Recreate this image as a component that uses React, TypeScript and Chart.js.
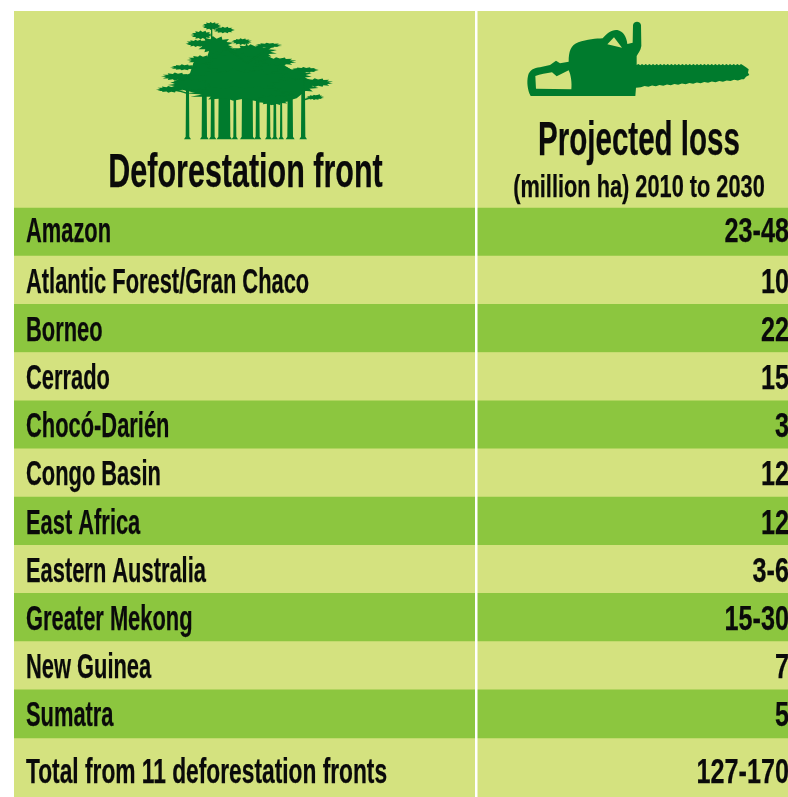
import React, { useEffect, useRef } from "react";
import { Chart, registerables } from "chart.js";

Chart.register(...registerables);

const fronts = [
  "Amazon",
  "Atlantic Forest/Gran Chaco",
  "Borneo",
  "Cerrado",
  "Chocó-Darién",
  "Congo Basin",
  "East Africa",
  "Eastern Australia",
  "Greater Mekong",
  "New Guinea",
  "Sumatra",
];
const losses = ["23-48", "10", "22", "15", "3", "12", "12", "3-6", "15-30", "7", "5"];
const totalLabel = "Total from 11 deforestation fronts";
const totalLoss = "127-170";
const headerLeft = "Deforestation front";
const headerRight = "Projected loss";
const headerRightSub = "(million ha) 2010 to 2030";

const LIGHT = "#d4e27f";
const DARK = "#8cc63f";
const ICON = "#007b2d";
const FONT = '"Liberation Sans Narrow", "Liberation Sans", sans-serif';
const HS = 0.625;
const HS_VALUES = 0.72;
const SEPARATOR = 0.597;
const Y_MIN = -4.589;
const Y_MAX = 11.725;
const TOTAL_POS = 11.175;

function drawText(ctx: CanvasRenderingContext2D, text: string, x: number, y: number, size: number, align: "left" | "right" | "center", hs = HS) {
  ctx.save();
  ctx.font = `bold ${size}px ${FONT}`;
  ctx.fillStyle = "#0a0a0a";
  ctx.strokeStyle = "#0a0a0a";
  ctx.lineWidth = 0.25;
  ctx.textBaseline = "alphabetic";
  ctx.textAlign = align;
  ctx.translate(x, y);
  ctx.scale(hs, 1);
  ctx.fillText(text, 0, 0);
  ctx.strokeText(text, 0, 0);
  ctx.restore();
}

function drawChainsaw(ctx: CanvasRenderingContext2D) {
  ctx.save();
  ctx.translate(510, 10);
  ctx.scale(1 / 3, 1 / 3);
  const p = new Path2D();
  p.moveTo(62, 258);
  p.bezierCurveTo(52, 240, 50, 215, 54, 198);
  p.bezierCurveTo(58, 180, 72, 174, 90, 172);
  p.lineTo(120, 165);
  p.lineTo(138, 152);
  p.lineTo(150, 160);
  p.lineTo(176, 155);
  p.bezierCurveTo(176, 125, 182, 105, 205, 97);
  p.bezierCurveTo(230, 88, 260, 86, 278, 85);
  p.bezierCurveTo(290, 70, 305, 58, 322, 60);
  p.bezierCurveTo(340, 64, 350, 80, 352, 102);
  p.lineTo(368, 98);
  p.lineTo(369, 45);
  p.bezierCurveTo(372, 32, 390, 32, 393, 45);
  p.lineTo(394, 108);
  p.bezierCurveTo(392, 122, 384, 130, 380, 138);
  p.lineTo(380, 165);
  for (let x = 380; x < 695; x += 11) {
    p.lineTo(x + 5, 162);
    p.lineTo(x + 11, 166);
  }
  p.lineTo(708, 172);
  p.lineTo(716, 178);
  p.lineTo(714, 188);
  p.lineTo(718, 195);
  p.lineTo(708, 200);
  p.lineTo(702, 208);
  for (let i = 0; i < 28; i++) {
    const x = 695 - i * 11.2;
    const t = (695 - x) / 315;
    p.lineTo(x, 208 + 22 * t + (i % 2 ? 3 : 0));
  }
  p.lineTo(378, 233);
  p.lineTo(376, 258);
  p.closePath();
  p.moveTo(76, 198);
  p.bezierCurveTo(90, 192, 110, 190, 126, 187);
  p.lineTo(140, 199);
  p.lineTo(176, 181);
  p.bezierCurveTo(183, 195, 186, 220, 184, 238);
  p.lineTo(78, 236);
  p.closePath();
  p.moveTo(292, 103);
  p.lineTo(312, 82);
  p.lineTo(336, 113);
  p.closePath();
  ctx.fillStyle = ICON;
  ctx.fill(p, "evenodd");
  ctx.restore();
}

// Icon trunks and canopy shapes, in the 3x-zoomed icon space.
const trunkSpans = [[136, 149], [184, 202], [211, 225], [234, 272], [279, 290], [304, 340], [346, 360], [379, 392], [399, 410], [419, 428], [441, 460], [482, 497]];
const canopy = [
  [100, 215], [150, 190], [160, 160], [200, 145], [215, 100], [250, 105], [290, 120], [320, 105], [345, 115],
  [370, 130], [405, 150], [440, 170], [480, 195], [520, 215], [500, 240], [470, 265], [400, 285], [360, 275],
  [300, 265], [240, 262], [190, 255], [130, 240],
];
const clumps = [
  [215, 48, 26, 11], [252, 60, 30, 9], [185, 75, 30, 12], [170, 100, 30, 10], [225, 105, 50, 24],
  [305, 95, 28, 9], [385, 106, 38, 7], [340, 125, 65, 20], [185, 150, 40, 13], [280, 160, 80, 30],
  [415, 155, 50, 12], [130, 172, 36, 8], [110, 200, 42, 11], [495, 180, 38, 8], [450, 195, 60, 20],
  [300, 215, 170, 35], [530, 218, 45, 12], [90, 238, 38, 9], [150, 225, 60, 18], [460, 228, 70, 22],
  [525, 262, 25, 7], [300, 250, 150, 20], [400, 270, 50, 14],
];

function drawTrees(ctx: CanvasRenderingContext2D) {
  ctx.save();
  ctx.translate(140, 10);
  ctx.scale(1 / 3, 1 / 3);
  ctx.fillStyle = ICON;
  for (const [a, b] of trunkSpans) {
    ctx.beginPath();
    ctx.moveTo(a + 2, 240);
    ctx.lineTo(b - 2, 240);
    ctx.lineTo(b - 1, 380);
    ctx.lineTo(b + 4, 388);
    ctx.lineTo(a - 4, 388);
    ctx.lineTo(a + 1, 380);
    ctx.closePath();
    ctx.fill();
  }
  ctx.beginPath();
  canopy.forEach(([x, y], i) => (i === 0 ? ctx.moveTo(x, y) : ctx.lineTo(x, y)));
  ctx.closePath();
  ctx.fill();
  for (const [cx, cy, rx, ry] of clumps) {
    ctx.beginPath();
    const n = 26;
    for (let i = 0; i < n; i++) {
      const a = (i / n) * Math.PI * 2;
      const k = i % 2 ? 1.12 : 0.78;
      const x = cx + Math.cos(a) * rx * k;
      const y = cy + Math.sin(a) * ry * k;
      if (i === 0) ctx.moveTo(x, y);
      else ctx.lineTo(x, y);
    }
    ctx.closePath();
    ctx.fill();
  }
  ctx.strokeStyle = ICON;
  ctx.lineWidth = 4;
  const branches = [[143, 250, 90, 235], [215, 240, 215, 45], [320, 220, 320, 100], [490, 250, 495, 180], [490, 270, 540, 255], [320, 160, 255, 110], [320, 160, 395, 110]];
  for (const [a, b, c, d] of branches) {
    ctx.beginPath();
    ctx.moveTo(a, b);
    ctx.lineTo(c, d);
    ctx.stroke();
  }
  ctx.restore();
}

const tablePlugin = {
  id: "tablePlugin",
  beforeDraw(chart: any) {
    const { ctx, chartArea: a } = chart;
    ctx.save();
    ctx.fillStyle = LIGHT;
    ctx.fillRect(a.left, a.top, a.right - a.left, a.bottom - a.top);
    ctx.restore();
  },
  afterDraw(chart: any) {
    const { ctx, scales } = chart;
    const left = scales.x.left + 12;
    const right = scales.x.right + 1;
    scales.y.ticks.forEach((t: any) => {
      const hs = t.value === TOTAL_POS ? 0.65 : HS;
      drawText(ctx, t.label, left, scales.y.getPixelForValue(t.value) + 12.5, 35, "left", hs);
    });
    scales.y2.ticks.forEach((t: any) => {
      drawText(ctx, t.label, right, scales.y2.getPixelForValue(t.value) + 12.5, 35, "right", HS_VALUES);
    });
    drawText(ctx, headerLeft, 245.5, 187, 48, "center", 0.635);
    drawText(ctx, headerRight, 639, 155, 48, "center", 0.615);
    drawText(ctx, headerRightSub, 639, 197, 32, "center", 0.68);
    drawTrees(ctx);
    drawChainsaw(ctx);
  },
};

const rowPositions = [-0.05, ...fronts.slice(1).map((_, i) => i + 1), TOTAL_POS];

export default function App() {
  const ref = useRef<HTMLCanvasElement | null>(null);
  useEffect(() => {
    const rowScale = (labels: string[], position: string) => ({
      type: "linear" as const,
      position,
      reverse: true,
      offset: false,
      bounds: "data",
      min: Y_MIN,
      max: Y_MAX,
      grid: { display: false },
      border: { display: false },
      ticks: { display: false, callback: (_: any, i: number) => labels[i] },
      afterBuildTicks: (s: any) => {
        s.ticks = rowPositions.map((value) => ({ value }));
      },
      afterFit: (s: any) => {
        s.width = 0;
      },
    });
    const chart = new Chart(ref.current!, {
      type: "bar",
      plugins: [tablePlugin],
      data: {
        datasets: [
          {
            label: "Rows",
            data: fronts.map((_, i) => ({ x: 1, y: i })),
            backgroundColor: fronts.map((_, i) => (i % 2 === 0 ? DARK : LIGHT)),
            borderWidth: 0,
            barPercentage: 1,
            categoryPercentage: 1,
          },
        ],
      },
      options: {
        indexAxis: "y",
        animation: false,
        responsive: false,
        layout: { padding: { left: 14, top: 11, right: 0, bottom: 0 } },
        plugins: { legend: { display: false }, tooltip: { enabled: false } },
        scales: {
          x: {
            type: "linear",
            min: 0,
            max: 1,
            grid: { color: "#ffffff", lineWidth: 2.5, z: 1, drawTicks: false },
            border: { display: false },
            ticks: { display: false },
            afterBuildTicks: (s: any) => {
              s.ticks = [{ value: SEPARATOR }];
            },
            afterFit: (s: any) => {
              s.height = 0;
            },
          },
          y: rowScale([...fronts, totalLabel], "left"),
          y2: rowScale([...losses, totalLoss], "right"),
        },
      } as any,
    });
    return () => chart.destroy();
  }, []);
  return (
    <div style={{ position: "absolute", left: 0, top: 0, width: 788, height: 797, overflow: "hidden", background: "#fff" }}>
      <canvas ref={ref} width={788} height={797} style={{ display: "block" }} />
    </div>
  );
}
